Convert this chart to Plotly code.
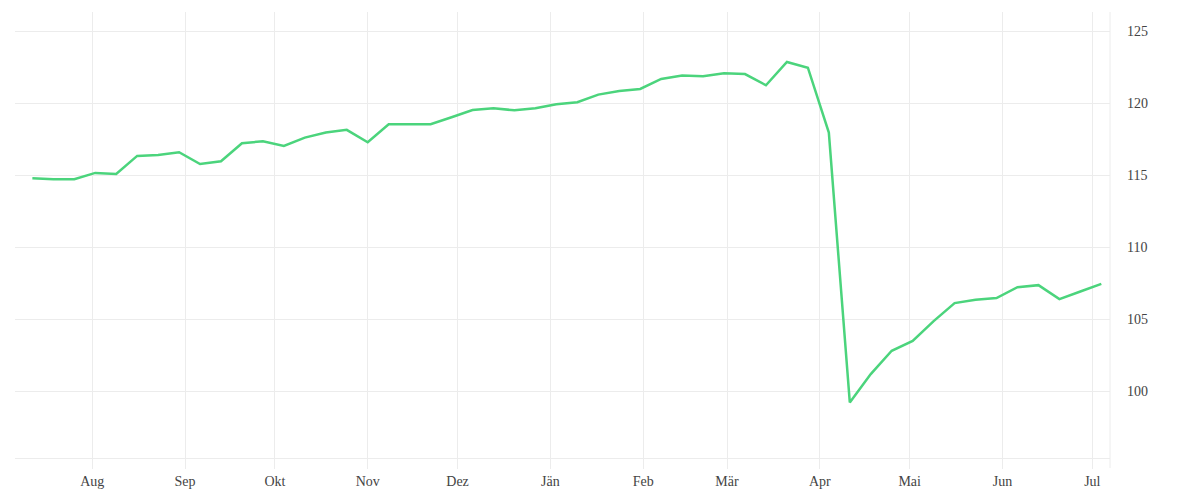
import plotly.graph_objects as go
import pandas as pd

start_date = "2020-07-12"
values = [114.79, 114.72, 114.72, 115.16, 115.09, 116.34, 116.41, 116.60, 115.78, 115.97,
          117.22, 117.36, 117.03, 117.61, 117.96, 118.15, 117.29, 118.54, 118.54, 118.54,
          119.03, 119.53, 119.65, 119.51, 119.65, 119.93, 120.07, 120.60, 120.85, 120.99,
          121.69, 121.92, 121.88, 122.08, 122.03, 121.25, 122.87, 122.47, 117.96, 99.21,
          101.18, 102.80, 103.49, 104.86, 106.11, 106.34, 106.46, 107.22, 107.36, 106.39,
          106.92, 107.45]
dates = pd.date_range(start_date, periods=len(values), freq="7D")

month_ticks = ["2020-08-01", "2020-09-01", "2020-10-01", "2020-11-01", "2020-12-01",
               "2021-01-01", "2021-02-01", "2021-03-01", "2021-04-01", "2021-05-01",
               "2021-06-01", "2021-07-01"]
month_labels = ["Aug", "Sep", "Okt", "Nov", "Dez", "Jän", "Feb", "Mär", "Apr", "Mai", "Jun", "Jul"]
y_ticks = [100, 105, 110, 115, 120, 125]

grid = "#ececec"
font_fam = "Liberation Serif, DejaVu Serif, serif"

fig = go.Figure()
fig.add_trace(go.Scatter(x=dates, y=values, mode="lines",
                         line=dict(color="#4bd47c", width=2.5),
                         hoverinfo="x+y", showlegend=False))

fig.update_layout(
    width=1184, height=484,
    margin=dict(l=7, r=82, t=4, b=34),
    paper_bgcolor="white", plot_bgcolor="white",
    font=dict(family=font_fam, size=14, color="#444"),
    xaxis=dict(
        range=["2020-07-06 04:48", "2021-07-06 21:36"],
        tickmode="array", tickvals=month_ticks, ticktext=month_labels,
        showgrid=True, gridcolor=grid, gridwidth=1,
        ticks="outside", ticklen=10, tickcolor=grid, tickwidth=1,
        showline=True, linecolor=grid, linewidth=1,
        zeroline=False,
        tickfont=dict(family=font_fam, size=14, color="#444"),
    ),
    yaxis=dict(
        side="right",
        range=[95.35, 126.34],
        tickmode="array", tickvals=y_ticks,
        showgrid=True, gridcolor=grid, gridwidth=1,
        ticks="", ticklabelstandoff=16,
        showline=False, zeroline=False,
        tickfont=dict(family=font_fam, size=14, color="#444"),
    ),
    shapes=[dict(type="line", xref="paper", yref="paper",
                 x0=1, x1=1, y0=-10 / 446, y1=1,
                 line=dict(color=grid, width=1))],
)

fig.write_html("out.html")
